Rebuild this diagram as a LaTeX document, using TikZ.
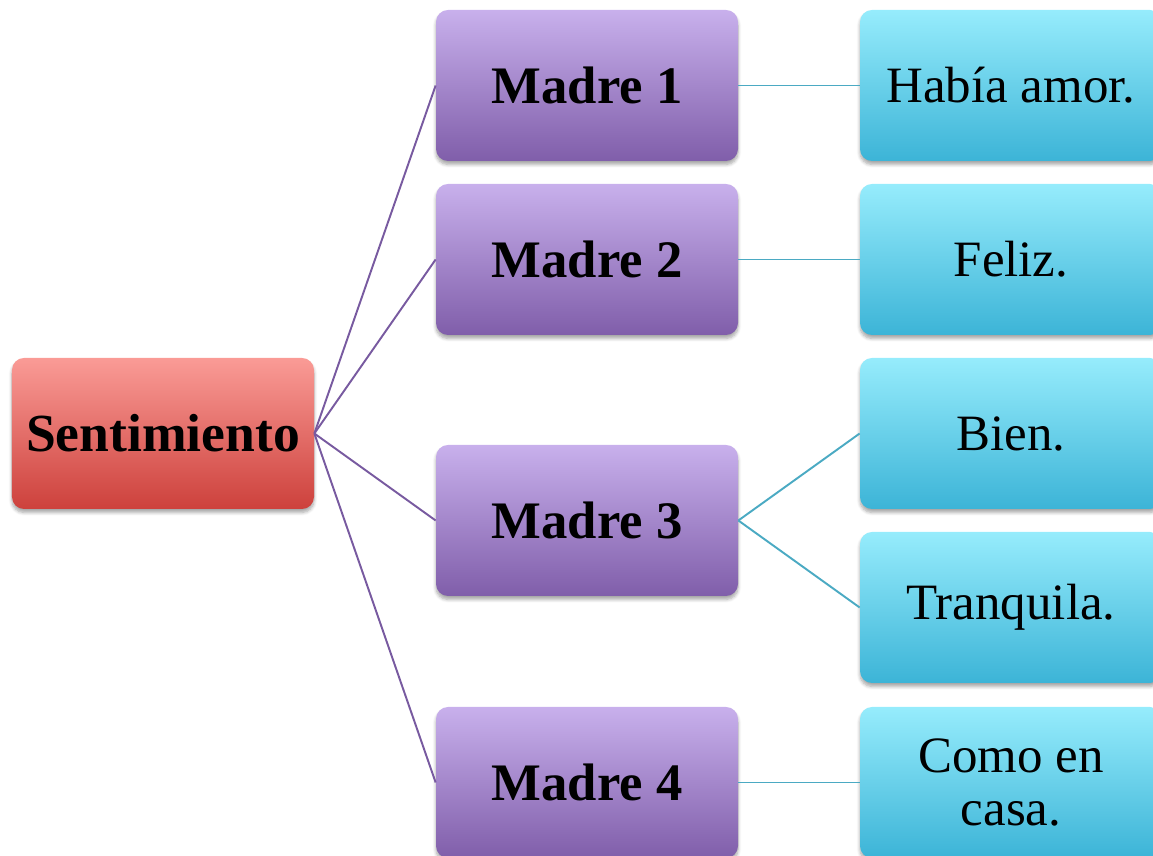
\documentclass[tikz,border=0pt]{standalone}
\usepackage{fontspec}
\setmainfont{Liberation Serif}
\usepackage{tikz}
\usetikzlibrary{positioning, shadows.blur}

\definecolor{rojoA}{RGB}{250,155,150}
\definecolor{rojoB}{RGB}{205,65,60}
\definecolor{moradoA}{RGB}{200,176,236}
\definecolor{moradoB}{RGB}{128,94,170}
\definecolor{azulA}{RGB}{150,236,252}
\definecolor{azulB}{RGB}{60,180,215}
\definecolor{moradoL}{RGB}{120,90,160}
\definecolor{azulL}{RGB}{75,170,195}

\begin{document}
\begin{tikzpicture}[
            caja/.style={rounded corners=0.24cm, minimum width=6.04cm, minimum height=3.02cm,
                align=center, inner sep=0pt,
                blur shadow={shadow xshift=0pt, shadow yshift=-0.07cm, shadow blur steps=6, shadow opacity=35}},
            raiz/.style={caja, top color=rojoA, bottom color=rojoB, font=\fontsize{30.5}{32}\selectfont\bfseries},
            madre/.style={caja, top color=moradoA, bottom color=moradoB, font=\fontsize{30}{32}\selectfont\bfseries},
            hoja/.style={caja, top color=azulA, bottom color=azulB, font=\fontsize{29}{30}\selectfont},
            ramaM/.style={moradoL, line width=1.1pt},
            ramaA/.style={azulL, line width=1.1pt}
        ]

            \useasboundingbox (0,0) rectangle (23.06,17.12);

            \node[raiz] (sent) at (3.26,8.45) {Sentimiento};

            \node[madre] (m1) at (11.74,15.41) {Madre 1};
            \node[madre] (m2) at (11.74,11.93) {Madre 2};
            \node[madre] (m3) at (11.74,6.71) {Madre 3};
            \node[madre] (m4) at (11.74,1.47) {Madre 4};

            \node[hoja] (h1) at (20.22,15.41) {Había amor.};
            \node[hoja] (h2) at (20.22,11.93) {Feliz.};
            \node[hoja] (h3) at (20.22,8.45) {Bien.};
            \node[hoja] (h4) at (20.22,4.97) {Tranquila.};
            \node[hoja] (h5) at (20.22,1.47) {Como en\\casa.};

            \draw[ramaM] (sent.east) -- (m1.west);
            \draw[ramaM] (sent.east) -- (m2.west);
            \draw[ramaM] (sent.east) -- (m3.west);
            \draw[ramaM] (sent.east) -- (m4.west);

            \draw[ramaA] (m1.east) -- (h1.west);
            \draw[ramaA] (m2.east) -- (h2.west);
            \draw[ramaA] (m3.east) -- (h3.west);
            \draw[ramaA] (m3.east) -- (h4.west);
            \draw[ramaA] (m4.east) -- (h5.west);
        \end{tikzpicture}
\end{document}
